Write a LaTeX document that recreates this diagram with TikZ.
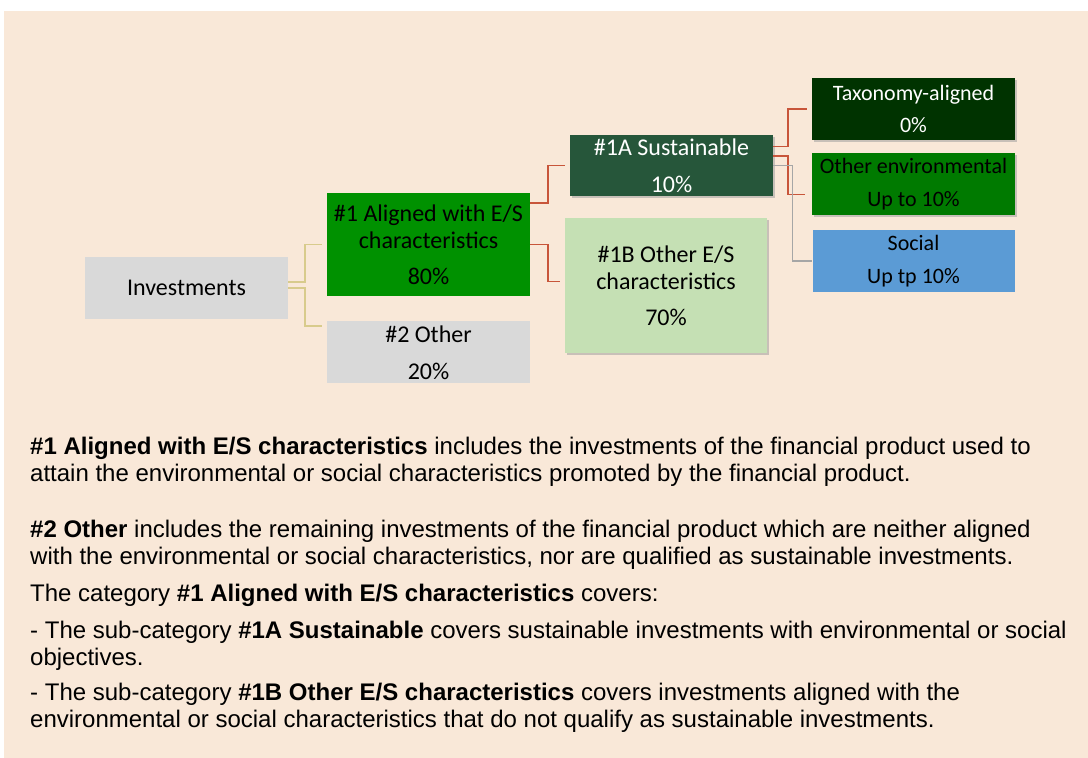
\documentclass[tikz,border=0pt]{standalone}
\usepackage{fontspec}
\setmainfont{Liberation Sans}
\newfontfamily\boxfont{Carlito}
\usetikzlibrary{positioning,calc,shadows}

\definecolor{bgpeach}{HTML}{F9E8D8}
\definecolor{boxgray}{HTML}{D9D9D9}
\definecolor{esgreen}{HTML}{009100}
\definecolor{susgreen}{HTML}{26563A}
\definecolor{taxgreen}{HTML}{003300}
\definecolor{envgreen}{HTML}{007A00}
\definecolor{socblue}{HTML}{5B9BD5}
\definecolor{palegreen}{HTML}{C5E0B4}
\definecolor{linkred}{HTML}{C8553A}
\definecolor{linktan}{HTML}{D8CB8C}
\definecolor{linkgray}{HTML}{A6A6A6}

\begin{document}
\begin{tikzpicture}[x=1pt,y=-1pt,
    box/.style={minimum width=203pt,minimum height=62pt,inner sep=0pt,align=center,
        font=\boxfont\fontsize{24}{27}\selectfont},
    small/.style={font=\boxfont\fontsize{22}{27}\selectfont},
    shade/.style={drop shadow={shadow xshift=1.5pt,shadow yshift=-1.5pt,fill=black!40,opacity=.5}},
    para/.style={anchor=base west,align=left,inner sep=0pt,font=\fontsize{24}{27}\selectfont},
    redlink/.style={draw=linkred,line width=1.8pt},
    tanlink/.style={draw=linktan,line width=1.8pt},
    graylink/.style={draw=linkgray,line width=1.4pt}]

    \useasboundingbox (0,0) rectangle (1088,758);
    \fill[bgpeach] (4,11) rectangle (1088,758);

    \node[box,fill=boxgray] (inv) at (186.5,288) {Investments};
    \node[box,fill=esgreen,minimum height=103pt] (al) at (428.5,244.5) {\#1 Aligned with E/S\\characteristics\\[9pt]80\%};
    \node[box,fill=boxgray] (oth) [below=25pt of al] {\#2 Other\\[10pt]20\%};
    \node[box,shade,fill=susgreen,text=white,minimum height=61pt] (sus) at (671.5,165.5) {\#1A Sustainable\\[10pt]10\%};
    \node[box,shade,fill=palegreen,minimum width=202pt,minimum height=135pt] (obs) at (666,285.5) {\#1B Other E/S\\characteristics\\[9pt]70\%};
    \node[box,small,shade,fill=taxgreen,text=white] (tax) at (913.5,109) {Taxonomy-aligned\\[5pt]0\%};
    \node[box,small,shade,fill=envgreen] (env) [below=13pt of tax] {Other environmental\\[6pt]Up to 10\%};
    \node[box,small,fill=socblue,minimum width=202pt] (soc) [below=14pt of env] {Social\\[6pt]Up tp 10\%};

    \path[tanlink] ($(inv.east)+(0,-6)$) -- ++(17,0) |- ($(al.west)+(-5,0)$);
    \path[tanlink] (inv.east) -- ++(17,0) |- ($(oth.north west)+(-5,5)$);
    \path[redlink] ($(al.north east)+(0,10)$) -- ++(18,0) |- ($(sus.west)+(-5,0)$);
    \path[redlink] (al.east) -- ++(18,0) |- ($(obs.west)+(-5,-4)$);
    \path[redlink] ($(sus.east)+(0,-19)$) -- ++(15,0) |- ($(tax.west)+(-5,0)$);
    \path[redlink] ($(sus.east)+(0,-9.5)$) -- ++(15,0) |- ($(env.west)+(-7,10)$);
    \path[graylink] (sus.east) -- ++(19,0) |- (soc.west);

    \node[para] (p1) at (30,481) {\textbf{\#1 Aligned with E/S characteristics} includes the investments of the financial product used to\\attain the environmental or social characteristics promoted by the financial product.};
    \node[para] (p2) at (30,564) {\textbf{\#2 Other} includes the remaining investments of the financial product which are neither aligned\\with the environmental or social characteristics, nor are qualified as sustainable investments.};
    \node[para] (p3) at (30,601) {The category \textbf{\#1 Aligned with E/S characteristics} covers:};
    \node[para] (p4) at (30,665) {- The sub-category \textbf{\#1A Sustainable} covers sustainable investments with environmental or social\\objectives.};
    \node[para] (p5) at (30,727) {- The sub-category \textbf{\#1B Other E/S characteristics} covers investments aligned with the\\environmental or social characteristics that do not qualify as sustainable investments.};
\end{tikzpicture}
\end{document}
